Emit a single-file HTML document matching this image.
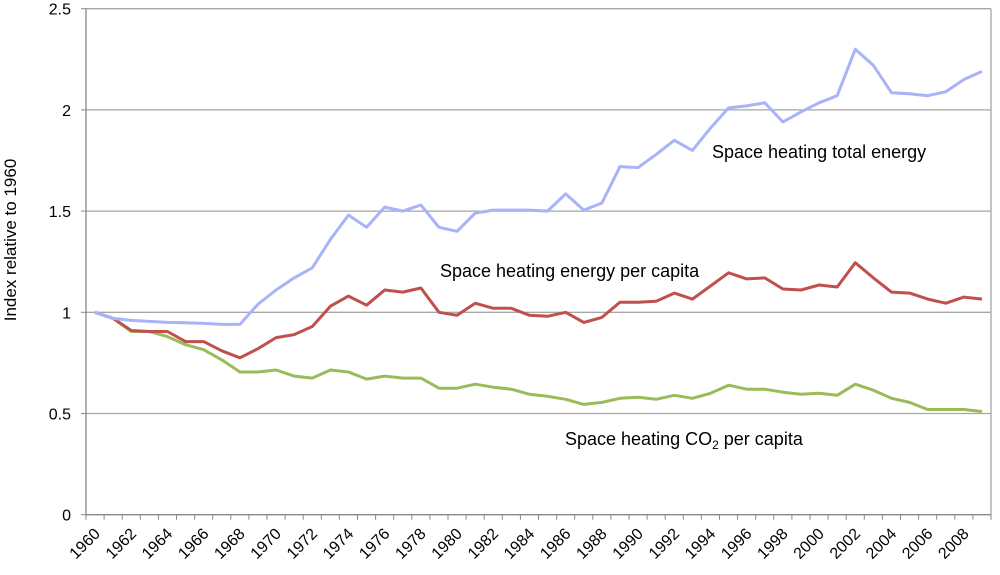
<!DOCTYPE html>
<html><head><meta charset="utf-8"><style>
html,body{margin:0;padding:0;background:#fff;}
svg{display:block;font-family:"Liberation Sans",sans-serif;}
</style></head><body>
<svg id="chart" width="1000" height="575"></svg>
<script>
const years=[];for(let y=1960;y<=2009;y++)years.push(y);
const totalEnergy=[1.0,0.97,0.96,0.955,0.95,0.948,0.945,0.94,0.94,1.04,1.11,1.17,1.22,1.36,1.48,1.42,1.52,1.50,1.53,1.42,1.40,1.49,1.505,1.505,1.505,1.50,1.585,1.505,1.54,1.72,1.715,1.78,1.85,1.80,1.91,2.01,2.02,2.035,1.94,1.99,2.035,2.07,2.30,2.22,2.085,2.08,2.07,2.09,2.15,2.19];
const energyPerCapita=[1.0,0.97,0.91,0.905,0.905,0.855,0.855,0.81,0.775,0.82,0.875,0.89,0.93,1.03,1.08,1.035,1.11,1.10,1.12,1.0,0.985,1.045,1.02,1.02,0.985,0.98,1.0,0.95,0.975,1.05,1.05,1.055,1.095,1.065,1.13,1.195,1.165,1.17,1.115,1.11,1.135,1.125,1.245,1.17,1.10,1.095,1.065,1.045,1.075,1.065];
const co2PerCapita=[1.0,0.97,0.905,0.905,0.88,0.84,0.815,0.765,0.705,0.705,0.715,0.685,0.675,0.715,0.705,0.67,0.685,0.675,0.675,0.625,0.625,0.645,0.63,0.62,0.595,0.585,0.57,0.545,0.555,0.575,0.58,0.57,0.59,0.575,0.60,0.64,0.62,0.62,0.605,0.595,0.60,0.59,0.645,0.615,0.575,0.555,0.52,0.52,0.52,0.51];
const yTicks=[0,0.5,1,1.5,2,2.5];
const yTickLabels=["0","0.5","1","1.5","2","2.5"];

const NS="http://www.w3.org/2000/svg";
const svg=document.getElementById('chart');
const x0=86,x1=991,y0=514.7,pxPerUnit=202.4;
const bw=(x1-x0)/years.length;
const xc=i=>x0+bw*(i+0.5);
const yv=v=>y0-v*pxPerUnit;
function el(t,a,p){const e=document.createElementNS(NS,t);for(const k in a)e.setAttribute(k,a[k]);(p||svg).appendChild(e);return e;}

yTicks.forEach((t,i)=>{
  if(t>0){const g=el('line',{x1:x0,x2:x1,y1:yv(t),y2:yv(t),stroke:'#a6a6a6','stroke-width':1.3});
  
  }
  const tk=el('line',{x1:x0-5,x2:x0,y1:yv(t),y2:yv(t),stroke:'#888','stroke-width':1});
  
  
  const lb=el('text',{x:x0-15,y:yv(t)+6,'text-anchor':'end','font-size':16,fill:'#000'});
  lb.textContent=yTickLabels[i];
  
  
});
const ax=el('line',{x1:x0,x2:x0,y1:yv(2.5),y2:y0,stroke:'#888','stroke-width':1.3});


const rx=el('line',{x1:x1,x2:x1,y1:yv(2.5),y2:y0,stroke:'#a6a6a6','stroke-width':1.3});


const xa=el('line',{x1:x0,x2:x1,y1:y0,y2:y0,stroke:'#888','stroke-width':1.3});


for(let i=0;i<=years.length;i++){
  const t=el('line',{x1:x0+bw*i,x2:x0+bw*i,y1:y0,y2:y0+5,stroke:'#888','stroke-width':1});
  
  
}
years.forEach((yr,i)=>{
  if(i%2)return;
  const tx=xc(i)+6,ty=y0+20;
  const l=el('text',{x:tx,y:ty,'text-anchor':'end','font-size':16,fill:'#000',transform:`rotate(-45 ${tx} ${ty})`});
  l.textContent=yr;
  
  
});
const yt=el('text',{x:16,y:240,'text-anchor':'middle','font-size':17,fill:'#000',transform:'rotate(-90 16 240)'});
yt.textContent='Index relative to 1960';



function series(data,color,name){
  const pts=data.map((v,i)=>xc(i).toFixed(1)+','+yv(v).toFixed(1)).join(' ');
  const p=el('polyline',{points:pts,fill:'none',stroke:color,'stroke-width':3,'stroke-linejoin':'round'});
  
  
}
series(co2PerCapita,'#9bbb59','co2-per-capita-line');
series(energyPerCapita,'#c0504d','energy-per-capita-line');
series(totalEnergy,'#a9b3f7','total-energy-line');

const l1=el('text',{x:712,y:158,'font-size':18,fill:'#000'});
l1.textContent='Space heating total energy';


const l2=el('text',{x:440,y:277,'font-size':18,fill:'#000'});
l2.textContent='Space heating energy per capita';


const l3=el('text',{x:565,y:445,'font-size':18,fill:'#000'});
l3.innerHTML='Space heating CO<tspan font-size="12" dy="4">2</tspan><tspan dy="-4"> per capita</tspan>';


</script>
</body></html>
